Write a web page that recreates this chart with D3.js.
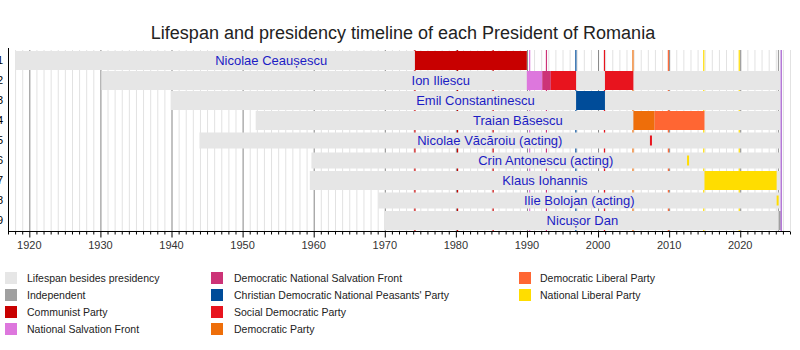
<!DOCTYPE html>
<html><head><meta charset="utf-8">
<script src="https://cdn.jsdelivr.net/npm/d3@7"></script>
<style>body{margin:0;background:#fff}svg{display:block;font-family:"Liberation Sans",Arial,sans-serif}</style>
</head><body><svg id="c" width="800" height="350"></svg>
<script>
// ---- data ----
const presidents = ["Nicolae Ceaușescu","Ion Iliescu","Emil Constantinescu","Traian Băsescu","Nicolae Văcăroiu (acting)","Crin Antonescu (acting)","Klaus Iohannis","Ilie Bolojan (acting)","Nicușor Dan"];
const rowNumbers = ["1","2","3","4","5","6","7","8","9"];
const acting = [false,false,false,false,true,true,false,true,false];
const births = [1918.07,1930.17,1939.88,1951.84,1943.93,1959.68,1959.45,1969.10,1969.97];
const deaths = [1989.98,2025.59,null,null,null,null,null,null,null];
const nowYear = 2025.62;
const parties = ["Lifespan besides presidency","Independent","Communist Party","National Salvation Front","Democratic National Salvation Front","Christian Democratic National Peasants' Party","Social Democratic Party","Democratic Party","Democratic Liberal Party","National Liberal Party"];
const partyColors = ["#e6e6e6","#a0a0a0","#c80000","#dd77dd","#cc3377","#004c99","#e8141e","#ee6e0a","#ff6633","#ffdd00"];
const termRow   = [0,1,1,1,1,2,3,3,4,5,6,7,8];
const termStart = [1974.24,1989.98,1992.15,1993.35,2000.97,1996.91,2004.97,2007.95,2007.30,2012.52,2014.97,2025.12,2025.40];
const termEnd   = [1989.98,1992.15,1993.35,1996.91,2004.97,2000.97,2007.95,2014.97,2007.39,2012.65,2025.12,2025.40,null];
const termParty = [2,3,4,6,6,5,7,8,6,9,9,9,1];
const electionYears = [1974.24,1980.24,1985.24,1990.38,1992.74,1996.88,2000.90,2004.91,2009.89,2014.87,2019.86,2025.38];
const electionParty = [2,2,2,3,4,5,6,7,8,9,9,1];
const xDomain = [1917,2027];
const decadeTicks = [1920,1930,1940,1950,1960,1970,1980,1990,2000,2010,2020];

// ---- layout ----
const svg = d3.select("#c");
const L = 8, R = 790, T = 50, B = 231;
const x = d3.scaleLinear().domain(xDomain).range([L,R]);
const y = d3.scaleBand().domain(d3.range(presidents.length)).range([T,T+20*presidents.length]);
const endOf = i => deaths[i]===null ? nowYear : deaths[i];

svg.append("text").attr("x",403).attr("y",39).attr("text-anchor","middle")
  .attr("font-size",18).attr("fill","#222").text("Lifespan and presidency timeline of each President of Romania");

const g = svg.append("g");
const years = d3.range(xDomain[0], xDomain[1]+1);
g.selectAll(".yg").data(years.filter(v=>v%10!==0)).join("line")
  .attr("x1",d=>x(d)+0.5).attr("x2",d=>x(d)+0.5).attr("y1",T).attr("y2",B)
  .attr("stroke","#e2e2e2").attr("stroke-width",1);
g.selectAll(".dg").data(decadeTicks).join("line")
  .attr("x1",d=>x(d)+0.5).attr("x2",d=>x(d)+0.5).attr("y1",T).attr("y2",B)
  .attr("stroke","#858585").attr("stroke-width",1);
g.selectAll(".el").data(electionYears).join("line")
  .attr("x1",d=>x(d)).attr("x2",d=>x(d)).attr("y1",T).attr("y2",B)
  .attr("stroke",(d,i)=>partyColors[electionParty[i]]).attr("stroke-width",1.2);

function bandY(i, thin){ const h = acting[i] ? (thin?10:16) : 19; return {y: y(i)+ (20-h)/2 + 0.5, h}; }

g.selectAll(".life").data(presidents).join("rect")
  .attr("x",(d,i)=>x(births[i]))
  .attr("width",(d,i)=>x(endOf(i))-x(births[i]))
  .attr("y",(d,i)=>bandY(i).y).attr("height",(d,i)=>bandY(i).h)
  .attr("fill",partyColors[0]);

const tEnd = i => termEnd[i]===null ? nowYear : termEnd[i];
const tW = i => x(tEnd(i))-x(termStart[i]);
g.selectAll(".term").data(termRow).join("rect")
  .attr("x",(r,i)=>x(termStart[i]))
  .attr("width",(r,i)=>Math.max(2, tW(i)))
  .attr("y",(r,i)=>bandY(r, acting[r]&&tW(i)<3).y)
  .attr("height",(r,i)=>bandY(r, acting[r]&&tW(i)<3).h)
  .attr("fill",(r,i)=>partyColors[termParty[i]]);

g.append("line").attr("x1",x(nowYear)+1).attr("x2",x(nowYear)+1).attr("y1",T).attr("y2",B)
  .attr("stroke","#a055cc").attr("stroke-width",1.2);

g.selectAll(".nm").data(presidents).join("text")
  .attr("x",(d,i)=>(x(births[i])+x(endOf(i)))/2).attr("y",(d,i)=>y(i)+15)
  .attr("text-anchor","middle").attr("font-size",13).attr("fill","#1c1cc4").text(d=>d);

const xAxis = svg.append("g").attr("transform",`translate(0,${B+0.5})`);
xAxis.append("line").attr("x1",L).attr("x2",R).attr("stroke","#000");
xAxis.selectAll(".mt").data(years).join("line")
  .attr("x1",d=>x(d)+0.5).attr("x2",d=>x(d)+0.5).attr("y1",0).attr("y2",d=>d%10===0?6:3)
  .attr("stroke","#000");
xAxis.selectAll(".tl").data(decadeTicks).join("text")
  .attr("x",d=>x(d)).attr("y",17).attr("text-anchor","middle").attr("font-size",11).attr("fill","#333").text(d=>d);

const yAxis = svg.append("g");
yAxis.append("line").attr("x1",L+0.5).attr("x2",L+0.5).attr("y1",T-2).attr("y2",B+1).attr("stroke","#000");
yAxis.selectAll(".yl").data(rowNumbers).join("text")
  .attr("x",3).attr("y",(d,i)=>y(i)+14).attr("text-anchor","end").attr("font-size",11).attr("fill","#000").text(d=>d);

const legCols = [5,211,519], legText=[27,234,540];
const lg = svg.append("g");
parties.forEach((p,i)=>{
  const col = Math.floor(i/4), row = i%4;
  lg.append("rect").attr("x",legCols[col]).attr("y",272+row*17).attr("width",12).attr("height",12).attr("fill",partyColors[i]);
  lg.append("text").attr("x",legText[col]).attr("y",282+row*17).attr("font-size",10.5).attr("fill","#222").text(p);
});
</script></body></html>
